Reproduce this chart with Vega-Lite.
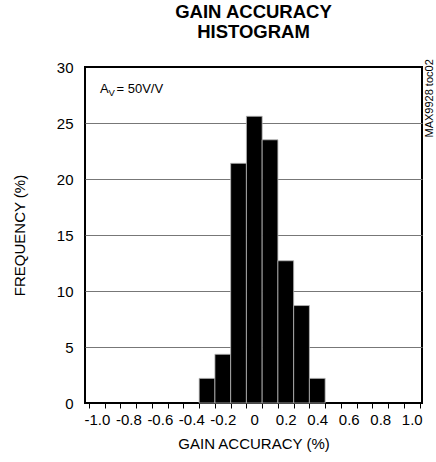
{
  "$schema": "https://vega.github.io/schema/vega-lite/v6.json",
  "width": 337,
  "height": 336,
  "autosize": {"type": "none"},
  "padding": {"left": 85, "top": 67, "right": 14, "bottom": 59},
  "background": "white",
  "config": {
    "font": "Liberation Sans",
    "view": {"stroke": "black", "strokeWidth": 2},
    "axis": {"labelFont": "Liberation Sans", "titleFont": "Liberation Sans", "labelColor": "black", "titleColor": "black", "titleFontWeight": "normal"}
  },
  "title": {
    "text": ["GAIN ACCURACY", "HISTOGRAM"],
    "font": "Liberation Sans",
    "fontSize": 18.5,
    "fontWeight": "bold",
    "lineHeight": 20,
    "anchor": "middle",
    "frame": "group",
    "offset": 18,
    "color": "black"
  },
  "resolve": {"scale": {"x": "shared", "y": "shared"}, "axis": {"x": "independent"}},
  "data": {
    "values": [
      {"lo": -0.35, "hi": -0.25, "freq": 2.2},
      {"lo": -0.25, "hi": -0.15, "freq": 4.35},
      {"lo": -0.15, "hi": -0.05, "freq": 21.4},
      {"lo": -0.05, "hi": 0.05, "freq": 25.6},
      {"lo": 0.05, "hi": 0.15, "freq": 23.5},
      {"lo": 0.15, "hi": 0.25, "freq": 12.7},
      {"lo": 0.25, "hi": 0.35, "freq": 8.7},
      {"lo": 0.35, "hi": 0.45, "freq": 2.2}
    ]
  },
  "layer": [
    {
      "mark": {"type": "bar", "color": "black", "stroke": "#b8b8b8", "strokeWidth": 0.8},
      "encoding": {
        "x": {
          "field": "lo", "type": "quantitative",
          "scale": {"domain": [-1.075, 1.065], "nice": false, "zero": false},
          "axis": {
            "orient": "bottom",
            "title": null,
            "labels": false,
            "domain": false,
            "grid": false,
            "tickColor": "black",
            "tickSize": 5,
            "tickWidth": 1,
            "values": [-1.05,-0.95,-0.85,-0.75,-0.65,-0.55,-0.45,-0.35,-0.25,-0.15,-0.05,0.05,0.15,0.25,0.35,0.45,0.55,0.65,0.75,0.85,0.95,1.05]
          }
        },
        "x2": {"field": "hi"},
        "y": {
          "field": "freq", "type": "quantitative",
          "scale": {"domain": [0, 30], "nice": false},
          "axis": {
            "title": "FREQUENCY (%)",
            "titleFontSize": 15,
            "titlePadding": 29,
            "labelFontSize": 15,
            "labelPadding": 12,
            "ticks": false,
            "domain": false,
            "values": [0, 5, 10, 15, 20, 25, 30],
            "grid": true,
            "gridColor": "#777777",
            "gridWidth": 1.2,
            "gridOpacity": {"condition": {"test": "datum.value == 0 || datum.value == 30", "value": 0}, "value": 1}
          }
        },
        "y2": {"datum": 0}
      }
    },
    {
      "data": {"values": [{"note": "A"}]},
      "mark": {"type": "text", "align": "left", "baseline": "alphabetic", "fontSize": 13, "font": "Liberation Sans", "color": "black"},
      "encoding": {
        "x": {
          "datum": -0.98, "type": "quantitative",
          "axis": {
            "orient": "bottom",
            "title": "GAIN ACCURACY (%)",
            "titleFontSize": 15,
            "titlePadding": 9,
            "labelFontSize": 15,
            "labelPadding": 9,
            "labelOverlap": false,
            "labelFlush": false,
            "labelBound": false,
            "domain": false,
            "grid": false,
            "ticks": false,
            "values": [-1.0, -0.8, -0.6, -0.4, -0.2, 0, 0.2, 0.4, 0.6, 0.8, 1.0],
            "labelExpr": "datum.value == 0 ? '0' : replace(format(datum.value, '.1f'), '\u2212', '-')"
          }
        },
        "y": {"datum": 27.7, "type": "quantitative"},
        "text": {"field": "note"}
      }
    },
    {
      "data": {"values": [{"note": "V"}]},
      "mark": {"type": "text", "align": "left", "baseline": "alphabetic", "fontSize": 9.5, "font": "Liberation Sans", "color": "black"},
      "encoding": {
        "x": {"datum": -0.925, "type": "quantitative", "axis": null},
        "y": {"datum": 27.4, "type": "quantitative"},
        "text": {"field": "note"}
      }
    },
    {
      "data": {"values": [{"note": "= 50V/V"}]},
      "mark": {"type": "text", "align": "left", "baseline": "alphabetic", "fontSize": 13, "font": "Liberation Sans", "color": "black"},
      "encoding": {
        "x": {"datum": -0.875, "type": "quantitative", "axis": null},
        "y": {"datum": 27.7, "type": "quantitative"},
        "text": {"field": "note"}
      }
    },
    {
      "data": {"values": [{"note": "MAX9928 toc02"}]},
      "mark": {"type": "text", "align": "center", "baseline": "middle", "angle": 270, "fontSize": 11, "font": "Liberation Sans", "color": "black", "clip": false},
      "encoding": {
        "x": {"datum": 1.117, "type": "quantitative", "axis": null},
        "y": {"datum": 27.2, "type": "quantitative"},
        "text": {"field": "note"}
      }
    }
  ]
}
